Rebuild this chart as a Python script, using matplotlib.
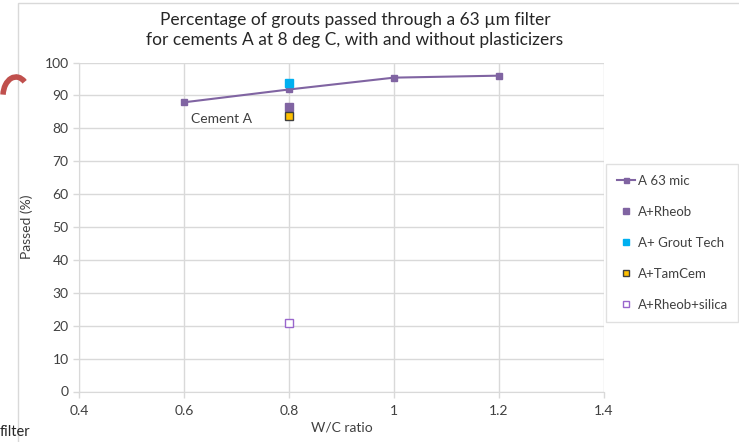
import matplotlib
matplotlib.use('Agg')
import matplotlib.pyplot as plt
from matplotlib.patches import Arc, Rectangle

plt.rcParams['font.family'] = ['Lato', 'DejaVu Sans']

# data
wc_line = [0.6, 0.8, 1.0, 1.2]
passed_line = [87.9, 91.8, 95.4, 96.0]

wc_rheob = [0.8]
passed_rheob = [86.5]
wc_grout = [0.8]
passed_grout = [93.9]
wc_tamcem = [0.8]
passed_tamcem = [83.8]
wc_silica = [0.8]
passed_silica = [20.9]

xticks = [0.4, 0.6, 0.8, 1.0, 1.2, 1.4]
xticklabels = ['0.4', '0.6', '0.8', '1', '1.2', '1.4']
yticks = list(range(0, 101, 10))

purple = '#8064A2'
grid_c = '#D9D9D9'
text_c = '#404040'

fig = plt.figure(figsize=(7.39, 4.42), dpi=100)
ax = fig.add_axes([79 / 739, 1 - 391.5 / 442, 525 / 739, 329 / 442])

ax.plot(wc_line, passed_line, '-s', color=purple, lw=1.5, ms=4.5, label='A 63 mic', zorder=3)
ax.plot(wc_rheob, passed_rheob, 's', color=purple, ms=5.5, ls='none', label='A+Rheob', zorder=3)
ax.plot(wc_grout, passed_grout, 's', color='#00B0F0', ms=5.5, ls='none', label='A+ Grout Tech', zorder=3)
ax.plot(wc_tamcem, passed_tamcem, 's', mfc='#FFC000', mec='#3F3F3F', mew=1.0, ms=5.5, ls='none',
        label='A+TamCem', zorder=3)
ax.plot(wc_silica, passed_silica, 's', mfc='white', mec='#9966CC', mew=1.0, ms=6, ls='none',
        label='A+Rheob+silica', zorder=3)

ax.set_xlim(0.4, 1.4)
ax.set_ylim(0, 100)
ax.set_xticks(xticks)
ax.set_xticklabels(xticklabels)
ax.set_yticks(yticks)
ax.grid(True, color=grid_c, lw=1)
ax.set_axisbelow(True)
for s in ['top', 'right']:
    ax.spines[s].set_visible(False)
for s in ['left', 'bottom']:
    ax.spines[s].set_color(grid_c)
ax.tick_params(axis='both', colors=grid_c, labelcolor=text_c, labelsize=10, length=4, width=1)
ax.tick_params(axis='x', pad=6)

ax.text(0.613, 81.5, 'Cement A', fontsize=10, color=text_c)

ax.set_xlabel('W/C ratio', fontsize=10, color=text_c, labelpad=3)
ax.set_ylabel('Passed (%)', fontsize=10, color=text_c, labelpad=8)

fig.text(355 / 739, 1 - 30 / 442,
         'Percentage of grouts passed through a 63 \u00b5m filter\n'
         'for cements A at 8 deg C, with and without plasticizers',
         ha='center', va='center', fontsize=12.5, color='#262626', linespacing=1.35)

leg = ax.legend(loc='upper left', bbox_to_anchor=(606 / 739, 1 - 164 / 442),
                bbox_transform=fig.transFigure, fontsize=9.5, frameon=True, fancybox=False,
                labelspacing=1.45, handlelength=1.4, handletextpad=0.2, borderpad=0.8,
                borderaxespad=0, markerscale=0.8)
leg.get_frame().set_edgecolor(grid_c)
leg.get_frame().set_linewidth(1)
for t in leg.get_texts():
    t.set_color(text_c)

# chart border and bits of the surrounding page
fig.add_artist(Rectangle((18 / 739, -0.1), 1.0, 1 - 3 / 442 + 0.1, transform=fig.transFigure,
                         fill=False, edgecolor=grid_c, lw=1))
fig.add_artist(Arc((16 / 739, 1 - 96 / 442), 26 / 739, 38 / 442, theta1=70, theta2=170,
                   transform=fig.transFigure, color='#C0504D', lw=4))
fig.text(0, 1 - 432 / 442, 'filter', fontsize=10.5, color='#262626', va='center', ha='left')

fig.savefig('out.png', dpi=100)
